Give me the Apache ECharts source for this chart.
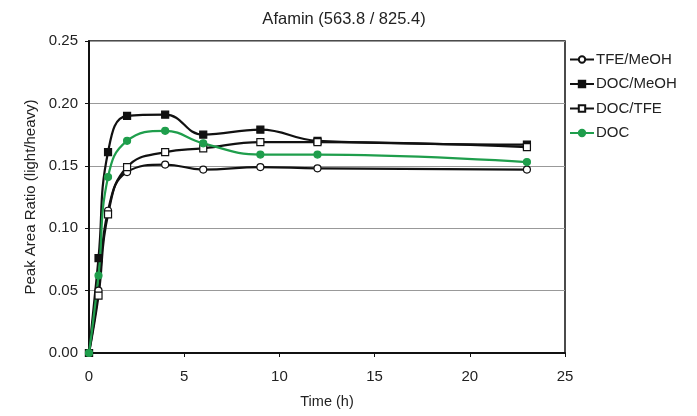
<!DOCTYPE html>
<html>
<head>
<meta charset="utf-8">
<script src="https://cdn.jsdelivr.net/npm/echarts@6/dist/echarts.min.js"></script>
<style>html,body{margin:0;padding:0;background:#fff}#c{width:697px;height:416px}</style>
</head>
<body>
<div id="c"></div>
<script>
const timeH = [0, 0.5, 1, 2, 4, 6, 9, 12, 23];
const tfeMeoh = [0, 0.050, 0.114, 0.145, 0.151, 0.147, 0.149, 0.148, 0.147];
const docMeoh = [0, 0.076, 0.161, 0.190, 0.191, 0.175, 0.179, 0.170, 0.167];
const docTfe  = [0, 0.046, 0.111, 0.149, 0.161, 0.164, 0.169, 0.169, 0.165];
const doc     = [0, 0.062, 0.141, 0.170, 0.178, 0.168, 0.159, 0.159, 0.153];
const seriesNames = ['TFE/MeOH', 'DOC/MeOH', 'DOC/TFE', 'DOC'];

const FONT = 'Liberation Sans, Arial, sans-serif';
const pairs = v => timeH.map((t, i) => [t, v[i]]);
function mk(name, vals, symbol, color, fill) {
  return {
    name: name, type: 'line', data: pairs(vals), smooth: 0.45,
    symbol: symbol, symbolSize: 7, showSymbol: true,
    lineStyle: {color: color, width: 2.2},
    itemStyle: {color: fill, borderColor: color, borderWidth: 1.2},
    emphasis: {disabled: true}
  };
}
const chart = echarts.init(document.getElementById('c'));
chart.setOption({
  animation: false,
  backgroundColor: '#fff',
  title: {text: 'Afamin (563.8 / 825.4)', left: 339, textAlign: 'center', top: 6,
    textStyle: {fontFamily: FONT, fontSize: 16.5, fontWeight: 'normal', color: '#222'}},
  grid: {left: 89, right: 132, top: 41, bottom: 63, show: true, borderColor: '#111', borderWidth: 1.5, backgroundColor: 'transparent'},
  legend: {orient: 'vertical', left: 564, top: 47, itemGap: 9.5, itemWidth: 24, itemHeight: 8,
    data: seriesNames,
    textStyle: {fontFamily: FONT, fontSize: 15, color: '#222', padding: [0,0,0,-3]}},
  xAxis: {type: 'value', min: 0, max: 25, interval: 5,
    name: 'Time (h)', nameLocation: 'middle', nameGap: 41,
    nameTextStyle: {fontFamily: FONT, fontSize: 14.5, color: '#222'},
    axisLine: {lineStyle: {color: '#111', width: 2}},
    axisTick: {show: true, inside: false, length: 4, lineStyle: {color: '#111'}},
    axisLabel: {fontFamily: FONT, fontSize: 15, color: '#222', margin: 16},
    splitLine: {show: false}},
  yAxis: {type: 'value', min: 0, max: 0.25, interval: 0.05,
    name: 'Peak Area Ratio (light/heavy)', nameLocation: 'middle', nameGap: 50,
    nameTextStyle: {fontFamily: FONT, fontSize: 15, color: '#222'},
    axisLine: {show: true, lineStyle: {color: '#111', width: 2}},
    axisTick: {show: true, inside: false, length: 4, lineStyle: {color: '#111'}},
    axisLabel: {fontFamily: FONT, fontSize: 15, color: '#222', margin: 11, formatter: v => v.toFixed(2)},
    splitLine: {show: true, lineStyle: {color: '#999', width: 1}}},
  series: [
    mk(seriesNames[0], tfeMeoh, 'circle', '#111', '#fff'),
    mk(seriesNames[1], docMeoh, 'rect', '#111', '#111'),
    mk(seriesNames[2], docTfe, 'rect', '#111', '#fff'),
    mk(seriesNames[3], doc, 'circle', '#1f9e4c', '#1f9e4c')
  ]
});
</script>
</body>
</html>
